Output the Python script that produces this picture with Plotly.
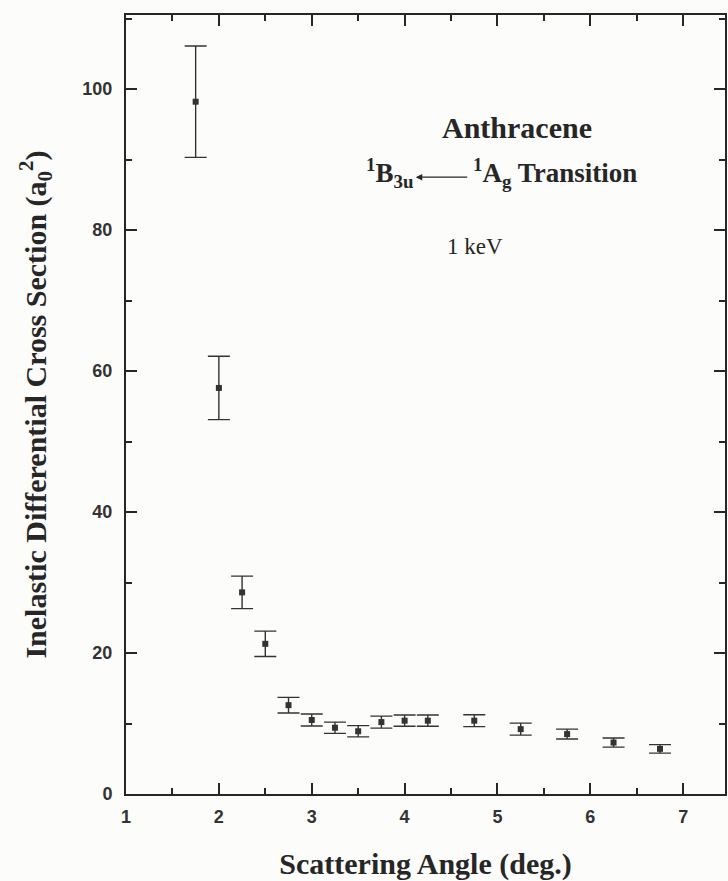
import plotly.graph_objects as go

angle = [1.75, 2.0, 2.25, 2.5, 2.75, 3.0, 3.25, 3.5, 3.75, 4.0, 4.25, 4.75, 5.25, 5.75, 6.25, 6.75]
cross_section = [98.2, 57.6, 28.6, 21.3, 12.6, 10.5, 9.4, 8.9, 10.2, 10.4, 10.4, 10.4, 9.2, 8.5, 7.3, 6.4]
error = [7.9, 4.5, 2.3, 1.8, 1.1, 0.85, 0.8, 0.8, 0.85, 0.8, 0.8, 0.85, 0.85, 0.7, 0.65, 0.6]

x_ticks = [1, 2, 3, 4, 5, 6, 7]
y_ticks = [0, 20, 40, 60, 80, 100]

ink = "#262626"
serif = "Liberation Serif, Times New Roman, serif"
sans = "Liberation Sans, Arial, sans-serif"

fig = go.Figure()
fig.add_trace(go.Scatter(
    x=angle, y=cross_section, mode="markers",
    marker=dict(symbol="square", size=6, color="#333333", line=dict(width=0)),
    error_y=dict(type="data", array=error, visible=True, color="#333333", thickness=1.4, width=11),
    showlegend=False,
))

axis_common = dict(
    showline=True, linecolor=ink, linewidth=2, mirror="ticks",
    ticks="inside", ticklen=11, tickwidth=2, tickcolor=ink,
    showgrid=False, zeroline=False,
    tickfont=dict(family=sans, size=18, color="#333333", weight="bold"),
)

fig.update_xaxes(
    range=[1, 7.45], tickvals=x_ticks,
    minor=dict(ticks="inside", ticklen=6, tickwidth=2, tickcolor=ink, dtick=0.5, tick0=1, showgrid=False),
    title=dict(text="Scattering Angle (deg.)", font=dict(family=serif, size=30, color=ink, weight="bold"), standoff=32),
    ticklabelstandoff=5,
    **axis_common,
)
fig.update_yaxes(
    range=[0, 110.5], tickvals=y_ticks,
    minor=dict(ticks="inside", ticklen=6, tickwidth=2, tickcolor=ink, dtick=10, tick0=0, showgrid=False),
    title=dict(text="Inelastic Differential Cross Section (a<sub>0</sub><sup>2</sup>)",
               font=dict(family=serif, size=30, color=ink, weight="bold"), standoff=27),
    ticklabelstandoff=8,
    **axis_common,
)

ann_font_b = dict(family=serif, size=27, color=ink, weight="bold")
fig.add_annotation(x=5.21, y=94.5, xref="x", yref="y", text="Anthracene",
                   showarrow=False, font=dict(family=serif, size=30, color=ink, weight="bold"))
fig.add_annotation(x=4.11, y=88.1, xref="x", yref="y", text="<sup>1</sup>B<sub>3u</sub>",
                   showarrow=False, xanchor="right", font=ann_font_b)
fig.add_annotation(x=4.12, y=87.5, ax=4.69, ay=87.5, xref="x", yref="y", axref="x", ayref="y",
                   text="", showarrow=True, arrowhead=2, arrowsize=1, arrowwidth=1.3, arrowcolor=ink)
fig.add_annotation(x=4.72, y=88.1, xref="x", yref="y", text="<sup>1</sup>A<sub>g</sub> Transition",
                   showarrow=False, xanchor="left", font=ann_font_b)
fig.add_annotation(x=4.76, y=77.7, xref="x", yref="y", text="1 keV",
                   showarrow=False, font=dict(family=serif, size=23, color=ink))

fig.update_layout(
    width=728, height=881,
    margin=dict(l=126, r=1, t=15, b=86),
    paper_bgcolor="#fcfcfa", plot_bgcolor="#fcfcfa",
)

fig.write_html("out.html")
